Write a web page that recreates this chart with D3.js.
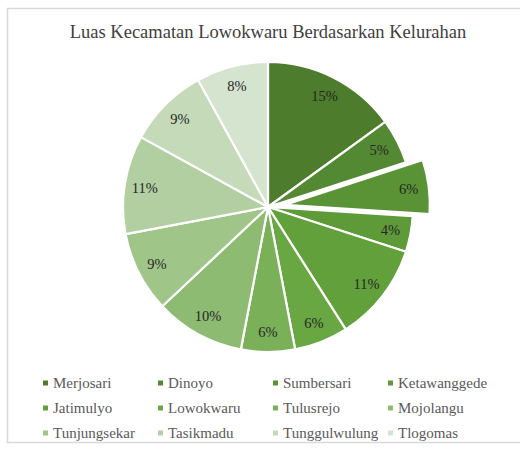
<!DOCTYPE html>
<html>
<head>
<meta charset="utf-8">
<script src="https://cdn.jsdelivr.net/npm/d3@7"></script>
<style>
  html, body { margin: 0; padding: 0; background: #fff; }
  svg { display: block; }
</style>
</head>
<body>
<svg id="chart" width="520" height="449"></svg>
<script>
// Kelurahan of Kecamatan Lowokwaru, clockwise from twelve o'clock
const kelurahan = ["Merjosari", "Dinoyo", "Sumbersari", "Ketawanggede",
  "Jatimulyo", "Lowokwaru", "Tulusrejo", "Mojolangu",
  "Tunjungsekar", "Tasikmadu", "Tunggulwulung", "Tlogomas"];
// share of the district's area, in percent
const luasPersen = [15, 5, 6, 4, 11, 6, 6, 10, 9, 11, 9, 8];
// slice pulled out of the pie
const exploded = ["Sumbersari"];
// monochromatic green ramp, darkest first
const warna = ["#4c7c2c", "#548933", "#5a9336", "#5f9a39", "#62a03b", "#69a743",
  "#7ab158", "#8dbb71", "#a0c589", "#b2cfa2", "#c4dab8", "#d5e4ce"];
const title = "Luas Kecamatan Lowokwaru Berdasarkan Kelurahan";

const serif = '"Liberation Serif"';
const svg = d3.select("#chart");
const cx = 268, cy = 207, R = 145, pull = 17;

// chart area frame
svg.append("rect")
  .attr("x", 7.5).attr("y", 8.5).attr("width", 530).attr("height", 434)
  .attr("fill", "#fff").attr("stroke", "#d9d9d9").attr("stroke-width", 1.5);

svg.append("text")
  .attr("class", "lbl")
  .attr("x", cx).attr("y", 38)
  .attr("text-anchor", "middle")
  .style("font-family", serif)
  .attr("font-size", 18.5)
  .attr("fill", "#404040")
  .text(title);

const data = kelurahan.map((k, i) => ({ name: k, value: luasPersen[i], color: warna[i] }));

const pie = d3.pie().value(d => d.value).sort(null);
const arcs = pie(data);
const arc = d3.arc().innerRadius(0).outerRadius(R);
const labelArc = d3.arc().innerRadius(R * 0.86).outerRadius(R * 0.86);

const offset = d => {
  if (!exploded.includes(d.data.name)) return [0, 0];
  const a = (d.startAngle + d.endAngle) / 2;
  return [pull * Math.sin(a), -pull * Math.cos(a)];
};

const g = svg.append("g").attr("transform", `translate(${cx},${cy})`);

const slice = g.selectAll("g.slice").data(arcs).join("g")
  .attr("class", "slice")
  .attr("transform", d => `translate(${offset(d)})`);

slice.append("path")
  .attr("d", arc)
  .attr("fill", d => d.data.color)
  .attr("stroke", "#fff").attr("stroke-width", 2.2)
  .attr("stroke-linejoin", "round");

slice.append("text")
  .attr("class", "lbl")
  .attr("transform", d => `translate(${labelArc.centroid(d)})`)
  .attr("text-anchor", "middle").attr("dy", "0.35em")
  .style("font-family", serif)
  .attr("font-size", 14.5)
  .attr("fill", "#262626")
  .text(d => d.data.value + "%");

// legend: four columns, three rows
const colX = [45, 160, 275, 390];
const rowY = [383, 408, 433];
const leg = svg.append("g").selectAll("g").data(data).join("g")
  .attr("transform", (d, i) => `translate(${colX[i % 4]},${rowY[Math.floor(i / 4)]})`);
leg.append("rect")
  .attr("x", -2).attr("y", -2.5).attr("width", 5).attr("height", 5)
  .attr("fill", d => d.color);
leg.append("text")
  .attr("class", "lbl")
  .attr("x", 8).attr("dy", "0.35em")
  .style("font-family", serif)
  .attr("font-size", 15)
  .attr("fill", "#595959")
  .text(d => d.name);

// force text layout so the named font is resolved before painting
svg.selectAll("text.lbl").each(function () { this.getComputedTextLength(); });
</script>
</body>
</html>
